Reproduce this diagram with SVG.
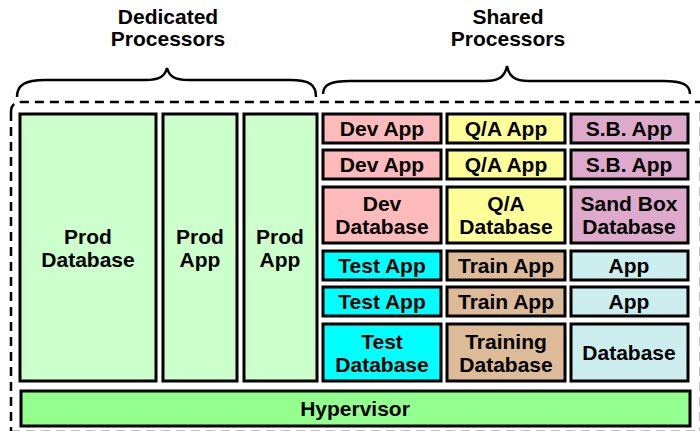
<svg xmlns="http://www.w3.org/2000/svg" width="700" height="431" viewBox="0 0 700 431">
<style>
text{font-family:"Liberation Sans",Arial,sans-serif;font-weight:bold;font-size:21px;fill:#000;text-anchor:middle}
.b{stroke:#000;stroke-width:3}
.brace{fill:none;stroke:#000;stroke-width:2.5}
.prod{fill:#CCFFCC}.dev{fill:#FFBBBB}.qa{fill:#FFFF99}.sb{fill:#DDAACC}.test{fill:#00FFFF}.train{fill:#DDBB99}.oth{fill:#CCEEEE}.hyp{fill:#93FF8F}
</style>
<rect width="700" height="431" fill="#fff"/>
<g id="labels">
<text x="168" y="24">Dedicated</text><text x="168" y="46">Processors</text>
<text x="508" y="24">Shared</text><text x="508" y="46">Processors</text>
</g>
<g id="braces">
<path class="brace" d="M17,97 C17,85 25,80 45,80 L145,80 C160,80 165,76 167,68 C169,76 174,80 189,80 L290,80 C310,80 316,85 316,97"/>
<path class="brace" d="M323,94 C323,85 330,81 350,81 L485,81 C500,81 505,76 507,66 C509,76 514,81 529,81 L663,81 C683,81 690,85 690,94"/>
</g>
<g id="frame" fill="none" stroke="#000" stroke-width="2.5" stroke-dasharray="9,6">
<path d="M11,112 Q11,102 21,102 L701,102 M701,112 L701,431"/>
<path d="M11,112 L11,431"/>
<path d="M11,432 L701,432"/>
</g>
<g id="prod-db"><rect class="b prod" x="20" y="114" width="136" height="267"/><text x="88" y="244">Prod</text><text x="88" y="267">Database</text></g>
<g id="prod-app1"><rect class="b prod" x="163" y="114" width="74" height="267"/><text x="200" y="244">Prod</text><text x="200" y="267">App</text></g>
<g id="prod-app2"><rect class="b prod" x="244" y="114" width="73" height="267"/><text x="280" y="244">Prod</text><text x="280" y="267">App</text></g>

<g id="dev1"><rect class="b dev" x="323" y="114" width="118" height="29"/><text x="382" y="136">Dev App</text></g>
<g id="qa1"><rect class="b qa" x="447" y="114" width="118" height="29"/><text x="506" y="136">Q/A App</text></g>
<g id="sb1"><rect class="b sb" x="571" y="114" width="117" height="29"/><text x="629" y="136">S.B. App</text></g>

<g id="dev2"><rect class="b dev" x="323" y="150" width="118" height="29"/><text x="382" y="172">Dev App</text></g>
<g id="qa2"><rect class="b qa" x="447" y="150" width="118" height="29"/><text x="506" y="172">Q/A App</text></g>
<g id="sb2"><rect class="b sb" x="571" y="150" width="117" height="29"/><text x="629" y="172">S.B. App</text></g>

<g id="devdb"><rect class="b dev" x="323" y="187" width="118" height="56"/><text x="382" y="211">Dev</text><text x="382" y="234">Database</text></g>
<g id="qadb"><rect class="b qa" x="447" y="187" width="118" height="56"/><text x="506" y="211">Q/A</text><text x="506" y="234">Database</text></g>
<g id="sbdb"><rect class="b sb" x="571" y="187" width="117" height="56"/><text x="629" y="211">Sand Box</text><text x="629" y="234">Database</text></g>

<g id="test1"><rect class="b test" x="323" y="251" width="118" height="29"/><text x="382" y="273">Test App</text></g>
<g id="train1"><rect class="b train" x="447" y="251" width="118" height="29"/><text x="506" y="273">Train App</text></g>
<g id="app1"><rect class="b oth" x="571" y="251" width="117" height="29"/><text x="629" y="273">App</text></g>

<g id="test2"><rect class="b test" x="323" y="287" width="118" height="29"/><text x="382" y="309">Test App</text></g>
<g id="train2"><rect class="b train" x="447" y="287" width="118" height="29"/><text x="506" y="309">Train App</text></g>
<g id="app2"><rect class="b oth" x="571" y="287" width="117" height="29"/><text x="629" y="309">App</text></g>

<g id="testdb"><rect class="b test" x="323" y="324" width="118" height="57"/><text x="382" y="349">Test</text><text x="382" y="372">Database</text></g>
<g id="traindb"><rect class="b train" x="447" y="324" width="118" height="57"/><text x="506" y="349">Training</text><text x="506" y="372">Database</text></g>
<g id="db"><rect class="b oth" x="571" y="324" width="117" height="57"/><text x="629" y="360">Database</text></g>

<g id="hypervisor"><rect class="b hyp" x="21" y="391" width="669" height="35"/><text x="355" y="416">Hypervisor</text></g>
</svg>
